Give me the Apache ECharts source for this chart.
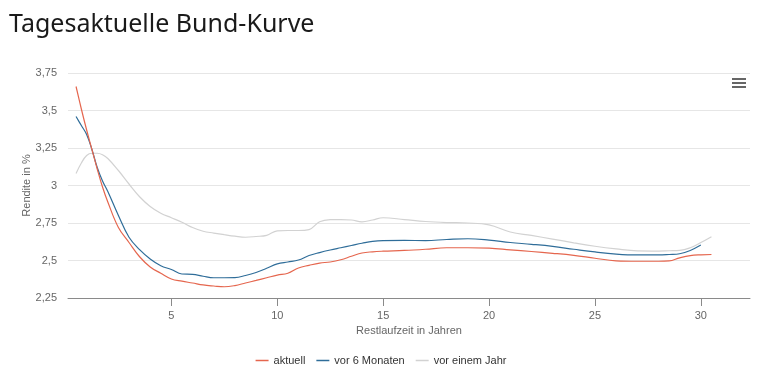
<!DOCTYPE html>
<html>
<head>
<meta charset="utf-8">
<script src="https://cdn.jsdelivr.net/npm/echarts@6/dist/echarts.min.js"></script>
<style>
html,body{margin:0;padding:0;background:#fff;}
#chart{width:762px;height:373px;}
</style>
</head>
<body>
<div id="chart"></div>
<script>
var titleText = "Tagesaktuelle Bund-Kurve";
var seriesNames = ["aktuell", "vor 6 Monaten", "vor einem Jahr"];
var xTicks = [5, 10, 15, 20, 25, 30];
var yTicks = [2.25, 2.5, 2.75, 3, 3.25, 3.5, 3.75];

var tenors = [0.5, 0.75, 1, 1.25, 1.5, 1.75, 2, 2.5, 3, 3.5, 4, 4.5, 5, 5.5, 6, 6.5, 7, 7.5, 8, 8.5, 9, 9.5, 10, 10.5, 11, 11.5, 12, 12.5, 13, 13.5, 14, 14.5, 15, 16, 17, 18, 19, 20, 21, 22, 23, 24, 25, 26, 27, 28, 28.5, 29, 29.5, 30, 30.5];

var aktuell = [3.66, 3.51, 3.37, 3.24, 3.11, 2.99, 2.89, 2.72, 2.62, 2.525, 2.457, 2.415, 2.377, 2.362, 2.35, 2.337, 2.33, 2.325, 2.333, 2.35, 2.367, 2.385, 2.403, 2.415, 2.45, 2.468, 2.483, 2.49, 2.505, 2.528, 2.55, 2.558, 2.562, 2.567, 2.575, 2.585, 2.585, 2.582, 2.571, 2.56, 2.548, 2.534, 2.515, 2.498, 2.495, 2.495, 2.497, 2.518, 2.533, 2.538, 2.54];

var vor6Monaten = [3.46, 3.40, 3.34, 3.24, 3.12, 3.03, 2.96, 2.80, 2.655, 2.572, 2.51, 2.465, 2.44, 2.41, 2.408, 2.395, 2.385, 2.385, 2.386, 2.40, 2.42, 2.448, 2.477, 2.49, 2.503, 2.533, 2.553, 2.57, 2.585, 2.60, 2.615, 2.628, 2.633, 2.634, 2.633, 2.64, 2.645, 2.636, 2.62, 2.608, 2.594, 2.575, 2.557, 2.543, 2.537, 2.537, 2.54, 2.545, 2.567, 2.603, null];

var vorEinemJahr = [3.08, 3.15, 3.20, 3.215, 3.215, 3.205, 3.18, 3.10, 3.01, 2.925, 2.86, 2.815, 2.785, 2.755, 2.72, 2.695, 2.683, 2.672, 2.662, 2.655, 2.66, 2.668, 2.698, 2.70, 2.70, 2.706, 2.758, 2.772, 2.773, 2.77, 2.758, 2.77, 2.785, 2.773, 2.76, 2.753, 2.75, 2.737, 2.69, 2.667, 2.643, 2.618, 2.595, 2.577, 2.564, 2.563, 2.565, 2.567, 2.585, 2.62, 2.659];

var colors = ["#e5664e", "#2f6d99", "#d2d2d2"];

function pairs(vals) {
  var out = [];
  for (var i = 0; i < tenors.length; i++) {
    if (vals[i] !== null && vals[i] !== undefined) out.push([tenors[i], vals[i]]);
  }
  return out;
}

var chart = echarts.init(document.getElementById('chart'), null, {renderer: 'canvas'});
var lab = {fontFamily: "Liberation Sans, Arial, sans-serif", fontSize: 11, color: "#666"};

chart.setOption({
  animation: false,
  color: colors,
  title: {
    text: titleText,
    left: 4,
    top: 7,
    textStyle: {fontFamily: "Noto Sans", fontSize: 25, fontWeight: "normal", color: "#1a1a1a"}
  },
  grid: {left: 68, right: 12, top: 73, bottom: 75, containLabel: false},
  legend: {
    bottom: 2,
    left: 'center',
    icon: 'rect',
    itemWidth: 13,
    itemHeight: 1.5,
    itemGap: 11,
    textStyle: {fontFamily: "Liberation Sans, Arial, sans-serif", fontSize: 11, color: "#333"},
    data: seriesNames
  },
  xAxis: {
    type: 'value',
    min: 0.12,
    max: 32.32,
    name: "Restlaufzeit in Jahren",
    nameLocation: 'middle',
    nameGap: 27,
    nameMoveOverlap: false,
    nameTextStyle: lab,
    axisLine: {show: true, lineStyle: {color: "#8a8a8a", width: 1}},
    axisTick: {show: true, length: 8, customValues: xTicks, lineStyle: {color: "#8a8a8a"}},
    axisLabel: Object.assign({customValues: xTicks, margin: 12}, lab),
    splitLine: {show: false}
  },
  yAxis: {
    type: 'value',
    min: 2.25,
    max: 3.75,
    interval: 0.25,
    name: "Rendite in %",
    nameLocation: 'middle',
    nameGap: 36,
    nameMoveOverlap: false,
    nameTextStyle: lab,
    axisLine: {show: false},
    axisTick: {show: false},
    axisLabel: Object.assign({
      margin: 11,
      formatter: function (v) { return String(Math.round(v * 100) / 100).replace('.', ','); }
    }, lab),
    splitLine: {lineStyle: {color: "#e6e6e6", width: 1}}
  },
  series: [
    {name: seriesNames[0], type: 'line', data: pairs(aktuell), smooth: 0.4, showSymbol: false, lineStyle: {width: 1.2, color: colors[0]}, z: 3},
    {name: seriesNames[1], type: 'line', data: pairs(vor6Monaten), smooth: 0.4, showSymbol: false, lineStyle: {width: 1.2, color: colors[1]}, z: 2},
    {name: seriesNames[2], type: 'line', data: pairs(vorEinemJahr), smooth: 0.4, showSymbol: false, lineStyle: {width: 1.2, color: colors[2]}, z: 1}
  ],
  graphic: [
    {type: 'rect', left: 732, top: 78, shape: {width: 14, height: 2}, style: {fill: "#666"}},
    {type: 'rect', left: 732, top: 82, shape: {width: 14, height: 2}, style: {fill: "#666"}},
    {type: 'rect', left: 732, top: 86, shape: {width: 14, height: 2}, style: {fill: "#666"}}
  ]
});
</script>
</body>
</html>
